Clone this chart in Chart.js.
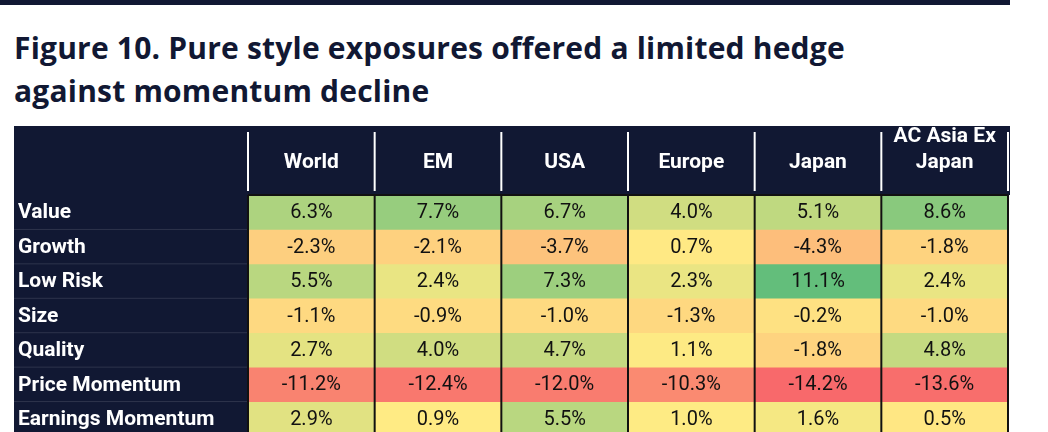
<!DOCTYPE html>
<html><head><meta charset="utf-8">
<script src="https://cdn.jsdelivr.net/npm/chart.js@4"></script>
<style>
html,body{margin:0;padding:0;background:#fff;width:1048px;height:432px;overflow:hidden}
#bar{position:absolute;left:0;top:0;width:1010px;height:5px;background:#111833}
#title{position:absolute;left:14px;top:26px;font-family:'Open Sans',sans-serif;font-weight:700;font-size:30px;line-height:43px;color:#111833;letter-spacing:0.2px}
#wrap{position:absolute;left:14px;top:126px;width:996px;height:310px}
</style></head><body>
<div id="bar"></div>
<div id="title">Figure 10. Pure style exposures offered a limited hedge<br>against momentum decline</div>
<div id="wrap"><canvas id="c"></canvas></div>
<script>
const columns = ['World','EM','USA','Europe','Japan',['AC Asia Ex','Japan']];
const rows = ['Value','Growth','Low Risk','Size','Quality','Price Momentum','Earnings Momentum'];
const world  = [6.3,-2.3,5.5,-1.1,2.7,-11.2,2.9];
const em     = [7.7,-2.1,2.4,-0.9,4.0,-12.4,0.9];
const usa    = [6.7,-3.7,7.3,-1.0,4.7,-12.0,5.5];
const europe = [4.0,0.7,2.3,-1.3,1.1,-10.3,1.0];
const japan  = [5.1,-4.3,11.1,-0.2,-1.8,-14.2,1.6];
const asia   = [8.6,-1.8,2.4,-1.0,4.8,-13.6,0.5];
const series = [world,em,usa,europe,japan,asia];

const all = series.flat().slice().sort((a,b)=>a-b);
const vmin = all[0], vmax = all[all.length-1];
const vmid = (all[20]+all[21])/2;
function mix(a,b,t){return a.map((v,i)=>Math.round(v+(b[i]-v)*t));}
const RED=[248,105,107], YEL=[255,235,132], GRN=[99,190,123];
function colorFor(v){
  let c = v<vmid ? mix(YEL,RED,(vmid-v)/(vmid-vmin)) : mix(YEL,GRN,(v-vmid)/(vmax-vmid));
  return `rgb(${c[0]},${c[1]},${c[2]})`;
}
const NAVY='#111833';
const datasets = rows.map((r,ri)=>({
  label:r,
  data: series.map(s=>[ri,ri+1]),
  backgroundColor: series.map(s=>colorFor(s[ri])),
  borderWidth:0,
  barPercentage:1, categoryPercentage:1, grouped:false
}));

const plugin = {
  id:'tbl',
  beforeDraw(ch){
    const {ctx,chartArea:a,scales:{x,y}} = ch;
    ctx.save();
    ctx.fillStyle=NAVY;
    ctx.fillRect(0,0,ch.width,a.top);
    ctx.fillRect(0,0,a.left,ch.height);
    ctx.restore();
  },
  afterDatasetsDraw(ch){
    const {ctx,chartArea:a,scales:{x,y}} = ch;
    ctx.save();
    // values
    ctx.font='20px "Liberation Sans Narrow","Roboto",sans-serif';
    ctx.fillStyle='#111';
    ctx.textAlign='center'; ctx.textBaseline='middle';
    series.forEach((s,ci)=>{
      s.forEach((v,ri)=>{
        ctx.fillText(v.toFixed(1)+'%', x.getPixelForValue(ci), y.getPixelForValue(ri+0.5)+1);
      });
    });
    // row labels
    ctx.font='bold 21px "Liberation Sans Narrow","Roboto",sans-serif';
    ctx.fillStyle='#fff'; ctx.textAlign='left';
    rows.forEach((r,ri)=>ctx.fillText(r, 4, y.getPixelForValue(ri+0.5)+1));
    // row separators in label column
    ctx.strokeStyle='rgba(255,255,255,0.12)'; ctx.lineWidth=1;
    for(let ri=1;ri<rows.length;ri++){const py=y.getPixelForValue(ri);ctx.beginPath();ctx.moveTo(0,py);ctx.lineTo(a.left,py);ctx.stroke();}
    // vertical lines
    const step = x.getPixelForValue(1)-x.getPixelForValue(0);
    for(let ci=0;ci<=columns.length;ci++){
      const px = x.getPixelForValue(ci)-step/2;
      ctx.strokeStyle='#fff'; ctx.lineWidth=2;
      ctx.beginPath(); ctx.moveTo(px,6); ctx.lineTo(px,a.top-4); ctx.stroke();
      ctx.strokeStyle='#111'; ctx.lineWidth=2;
      ctx.beginPath(); ctx.moveTo(px,a.top); ctx.lineTo(px,a.bottom); ctx.stroke();
    }
    ctx.strokeStyle='#111'; ctx.lineWidth=2;
    ctx.beginPath(); ctx.moveTo(a.left,a.top); ctx.lineTo(a.right,a.top); ctx.stroke();
    ctx.restore();
  }
};

new Chart(document.getElementById('c'),{
  type:'bar',
  data:{labels:columns,datasets},
  plugins:[plugin],
  options:{
    responsive:true, maintainAspectRatio:false, animation:false,
    layout:{padding:{left:234,right:2,top:0,bottom:0}},
    plugins:{legend:{display:false},tooltip:{enabled:false}},
    scales:{
      x:{type:'category',position:'top',offset:true,
         grid:{display:false},border:{display:false},
         ticks:{color:'#fff',font:{family:'"Liberation Sans Narrow","Roboto",sans-serif',size:21,weight:'bold'},padding:12},
         afterFit(s){s.height=69;}},
      y:{type:'linear',min:0,max:7,reverse:true,display:false}
    }
  }
});
</script>
</body></html>
